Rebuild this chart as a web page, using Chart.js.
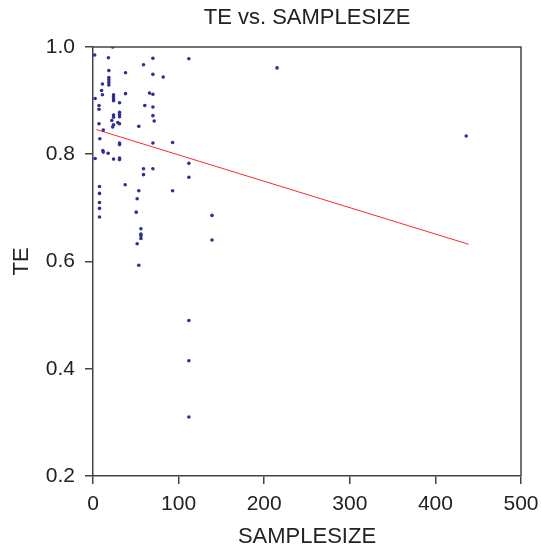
<!DOCTYPE html>
<html>
<head>
<meta charset="utf-8">
<script src="https://cdn.jsdelivr.net/npm/chart.js@4.4.1/dist/chart.umd.min.js"></script>
<style>
  html, body { margin: 0; padding: 0; background: #fff; }
  #wrap { width: 541px; height: 551px; }
</style>
</head>
<body>
<div id="wrap"><canvas id="myChart"></canvas></div>
<script>
// values
const sampleSize = [
    23, 2, 18, 70, 112, 59, 18.5, 38, 70, 82,
    18.5, 18.5, 18.5, 18.5, 11, 10, 11, 24, 24, 24,
    24, 38, 66, 70, 2.5, 31, 60.5, 70, 7, 7,
    31, 31, 31, 24, 24, 22, 29, 31, 24, 7,
    23, 70, 71.5, 53.5, 12, 8, 31, 31, 93, 70,
    11.5, 12, 17.7, 2.5, 24, 31, 31, 112, 59, 70,
    59, 112, 7.6, 37.6, 53.5, 93, 7.6, 51.6, 7.6, 7.6,
    50.5, 139, 7.6, 56, 56, 56, 56, 139, 51.6, 53.5,
    112, 112, 112, 215, 436
];
const te = [
    1.000, 0.985, 0.980, 0.979, 0.978, 0.967, 0.956, 0.952, 0.949, 0.944,
    0.943, 0.939, 0.934, 0.929, 0.931, 0.919, 0.911, 0.911, 0.907, 0.903,
    0.900, 0.913, 0.914, 0.912, 0.904, 0.896, 0.891, 0.888, 0.891, 0.884,
    0.878, 0.874, 0.870, 0.873, 0.869, 0.863, 0.859, 0.857, 0.855, 0.857,
    0.851, 0.872, 0.862, 0.852, 0.845, 0.829, 0.821, 0.818, 0.822, 0.821,
    0.807, 0.804, 0.802, 0.792, 0.791, 0.793, 0.790, 0.783, 0.773, 0.773,
    0.762, 0.757, 0.740, 0.743, 0.732, 0.732, 0.727, 0.717, 0.710, 0.699,
    0.692, 0.686, 0.683, 0.661, 0.651, 0.648, 0.643, 0.640, 0.633, 0.593,
    0.490, 0.415, 0.310, 0.961, 0.834
];
// fitted line ends
const fitX = [4, 439];
const fitY = [0.846, 0.632];

const xTicks = [0, 100, 200, 300, 400, 500];
const yTicks = [0.2, 0.4, 0.6, 0.8, 1.0];

const points = sampleSize.map((v, i) => ({ x: v, y: te[i] }));
const fitLine = fitX.map((v, i) => ({ x: v, y: fitY[i] }));

const textColor = "#222";
const axisColor = "#444";
const fontFamily = "Liberation Sans, Arial, sans-serif";

// top and right edges of the box
const frame = {
    id: "frame",
    afterDraw(chart) {
        const { ctx, chartArea: a } = chart;
        ctx.save();
        ctx.strokeStyle = axisColor;
        ctx.lineWidth = 1.5;
        ctx.beginPath();
        ctx.moveTo(a.left, a.top);
        ctx.lineTo(a.right, a.top);
        ctx.lineTo(a.right, a.bottom);
        ctx.stroke();
        ctx.restore();
    }
};

const ctx = document.getElementById("myChart").getContext("2d");
const myChart = new Chart(ctx, {
    type: "scatter",
    data: {
        datasets: [{
            label: "TE",
            data: points,
            backgroundColor: "#2e3192",
            borderColor: "#2e3192",
            borderWidth: 0,
            pointRadius: 1.8,
            order: 1
        }, {
            type: "line",
            label: "fit",
            data: fitLine,
            borderColor: "#ff2a2a",
            borderWidth: 1,
            pointRadius: 0,
            fill: false,
            order: 2
        }]
    },
    options: {
        responsive: true,
        maintainAspectRatio: false,
        animation: false,
        layout: { padding: { top: 0, right: 20, bottom: 0, left: 0 } },
        plugins: {
            legend: { display: false },
            tooltip: { enabled: false },
            title: {
                display: true,
                fullSize: false,
                text: "TE vs. SAMPLESIZE",
                color: textColor,
                font: { family: fontFamily, size: 22, weight: "normal" },
                padding: { top: 5, bottom: 15.6 }
            }
        },
        scales: {
            x: {
                type: "linear",
                min: 0,
                max: 500,
                afterFit(scale) {
                    scale.height = 75;
                    scale.paddingLeft = 0;
                    scale.paddingRight = 0;
                },
                afterBuildTicks(scale) { scale.ticks = xTicks.map(v => ({ value: v })); },
                ticks: {
                    color: textColor,
                    font: { family: fontFamily, size: 21 },
                    padding: 8
                },
                grid: { drawOnChartArea: false, drawTicks: true, tickLength: 8, color: axisColor, lineWidth: 1.5 },
                border: { display: true, color: axisColor, width: 1.5 },
                title: {
                    display: true,
                    text: "SAMPLESIZE",
                    color: textColor,
                    font: { family: fontFamily, size: 22 },
                    padding: { top: 0, bottom: 1 }
                }
            },
            y: {
                type: "linear",
                min: 0.2,
                max: 1.0,
                afterFit(scale) { scale.width = 93; },
                afterBuildTicks(scale) { scale.ticks = yTicks.map(v => ({ value: v })); },
                ticks: {
                    color: textColor,
                    font: { family: fontFamily, size: 21 },
                    padding: 10,
                    callback: v => Number(v).toFixed(1)
                },
                grid: { drawOnChartArea: false, drawTicks: true, tickLength: 8, color: axisColor, lineWidth: 1.5 },
                border: { display: true, color: axisColor, width: 1.5 },
                title: {
                    display: true,
                    text: "TE",
                    color: textColor,
                    font: { family: fontFamily, size: 22 },
                    padding: { top: 9, bottom: 0 }
                }
            }
        }
    },
    plugins: [frame]
});
</script>
</body>
</html>
